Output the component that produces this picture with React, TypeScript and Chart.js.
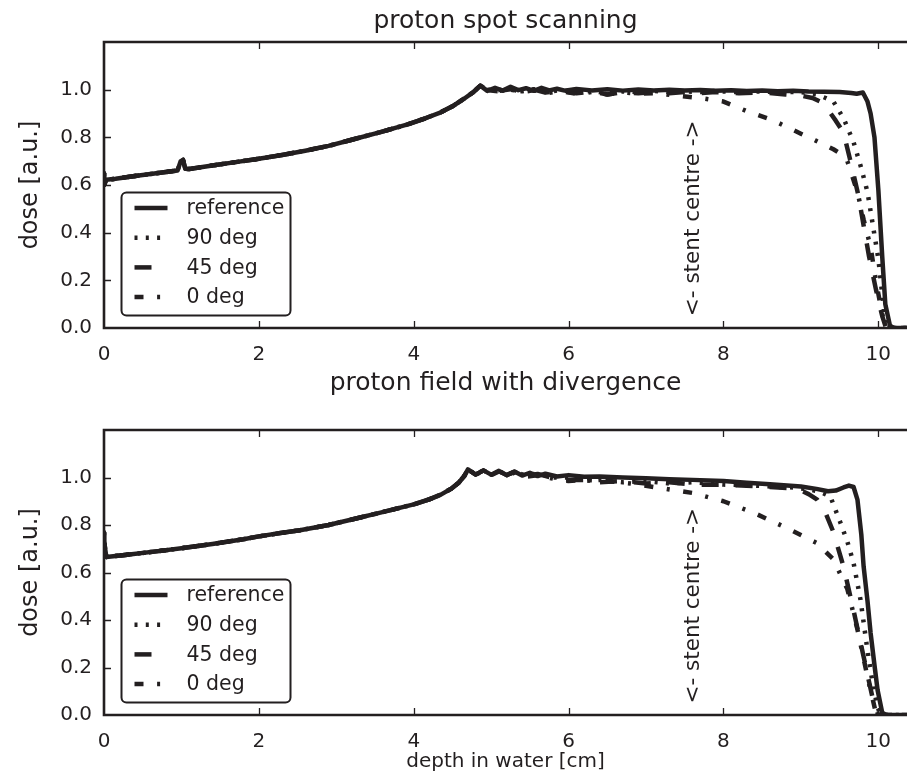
import React, { useEffect, useRef } from 'react';
import { Chart, registerables } from 'chart.js';
Chart.register(...registerables);

const INK = '#231f20';
const FONT = '"DejaVu Sans", "Liberation Sans", sans-serif';

const xTicks = [0, 2, 4, 6, 8, 10];
const yTicks = [0, 0.2, 0.4, 0.6, 0.8, 1.0];
const X_MAX = 10.37;
const Y_MAX = 1.2;
const seriesLabels = ['reference', '90 deg', '45 deg', '0 deg'];
const topTitle = 'proton spot scanning';
const topXLabel = 'proton field with divergence';
const bottomXLabel = 'depth in water [cm]';
const yLabel = 'dose [a.u.]';
const stentText = '<- stent centre ->';
const stentX = 7.61;
const stentY = 0.46;

// ---------- top panel (proton spot scanning) ----------
const topRiseX = [0, 0, 0.03, 0.15, 0.4, 0.7, 0.95, 0.99, 1.02, 1.05, 1.1, 1.4, 1.7, 2.0, 2.3, 2.6, 2.9, 3.2, 3.57, 3.91, 4.15, 4.35, 4.5, 4.65, 4.77, 4.86];
const topRiseY = [0.65, 0.6, 0.622, 0.626, 0.638, 0.65, 0.661, 0.7, 0.705, 0.668, 0.667, 0.682, 0.696, 0.71, 0.726, 0.744, 0.764, 0.79, 0.822, 0.853, 0.88, 0.905, 0.93, 0.962, 0.99, 1.017];

const topRefX = [4.95, 5.05, 5.15, 5.25, 5.35, 5.45, 5.55, 5.65, 5.75, 5.85, 5.95, 6.1, 6.3, 6.5, 6.7, 6.9, 7.1, 7.3, 7.5, 7.7, 7.9, 8.1, 8.3, 8.5, 8.7, 8.9, 9.1, 9.3, 9.5, 9.65, 9.72, 9.8, 9.86, 9.9, 9.95, 10.0, 10.05, 10.09, 10.15, 10.2, 10.37];
const topRefY = [0.995, 1.008, 0.996, 1.012, 0.998, 1.006, 0.995, 1.008, 0.997, 1.004, 0.996, 1.003, 0.997, 1.002, 0.996, 1.001, 0.997, 1.0, 0.996, 0.999, 0.995, 0.998, 0.994, 0.997, 0.993, 0.995, 0.992, 0.991, 0.99, 0.986, 0.983, 0.988, 0.95, 0.9, 0.8, 0.58, 0.3, 0.1, 0.01, 0, 0];

const top90X = [4.95, 5.1, 5.25, 5.4, 5.55, 5.7, 5.9, 6.1, 6.3, 6.5, 6.7, 6.9, 7.1, 7.3, 7.5, 7.7, 7.9, 8.1, 8.4, 8.7, 9.0, 9.2, 9.32, 9.42, 9.55, 9.68, 9.78, 9.86, 9.93, 10.0, 10.05, 10.09, 10.15, 10.37];
const top90Y = [1.0, 0.998, 1.005, 0.993, 1.002, 0.99, 0.998, 0.99, 0.995, 0.985, 0.993, 0.99, 0.995, 0.99, 0.993, 0.99, 0.995, 0.99, 0.993, 0.99, 0.99, 0.98, 0.965, 0.95, 0.88, 0.78, 0.67, 0.57, 0.43, 0.29, 0.14, 0.03, 0, 0];

const top45X = [4.95, 5.1, 5.25, 5.4, 5.55, 5.7, 5.9, 6.1, 6.3, 6.5, 6.7, 6.9, 7.1, 7.3, 7.5, 7.7, 7.9, 8.2, 8.5, 8.8, 9.0, 9.15, 9.25, 9.32, 9.45, 9.55, 9.64, 9.74, 9.81, 9.88, 9.97, 10.05, 10.1, 10.37];
const top45Y = [1.0, 0.995, 1.002, 0.99, 1.0, 0.988, 0.995, 0.985, 0.992, 0.98, 0.99, 0.985, 0.99, 0.985, 0.99, 0.985, 0.99, 0.985, 0.988, 0.98, 0.975, 0.965, 0.95, 0.93, 0.87, 0.82, 0.7, 0.56, 0.43, 0.3, 0.16, 0.05, 0, 0];

const top0X = [4.95, 5.1, 5.25, 5.4, 5.55, 5.7, 5.9, 6.1, 6.3, 6.5, 6.7, 6.9, 7.1, 7.4, 7.7, 8.0, 8.3, 8.65, 9.0, 9.2, 9.42, 9.52, 9.6, 9.73, 9.81, 9.9, 9.96, 10.03, 10.09, 10.37];
const top0Y = [0.998, 0.993, 1.0, 0.99, 0.998, 0.985, 0.993, 0.983, 0.99, 0.98, 0.988, 0.983, 0.985, 0.975, 0.965, 0.95, 0.91, 0.87, 0.815, 0.785, 0.75, 0.73, 0.7, 0.57, 0.455, 0.34, 0.215, 0.09, 0, 0];

// ---------- bottom panel (proton field with divergence) ----------
const botRiseX = [0, 0, 0.03, 0.3, 0.7, 1.0, 1.4, 1.8, 2.0, 2.3, 2.53, 2.9, 3.2, 3.57, 4.0, 4.2, 4.35, 4.48, 4.58, 4.65, 4.7];
const botRiseY = [0.77, 0.735, 0.665, 0.675, 0.69, 0.702, 0.72, 0.74, 0.752, 0.767, 0.778, 0.8, 0.823, 0.852, 0.887, 0.908, 0.928, 0.952, 0.978, 1.005, 1.034];

const botRefX = [4.8, 4.9, 5.0, 5.1, 5.2, 5.3, 5.4, 5.5, 5.6, 5.7, 5.85, 6.0, 6.2, 6.4, 6.7, 7.0, 7.3, 7.6, 8.0, 8.3, 8.6, 9.0, 9.2, 9.35, 9.45, 9.55, 9.62, 9.68, 9.73, 9.78, 9.81, 9.86, 9.9, 9.95, 9.99, 10.05, 10.1, 10.37];
const botRefY = [1.012, 1.03, 1.012, 1.028, 1.01, 1.025, 1.008, 1.02, 1.006, 1.016, 1.004, 1.01, 1.003, 1.004, 1.0, 0.997, 0.993, 0.99, 0.985, 0.978, 0.972, 0.962, 0.952, 0.942, 0.945, 0.958, 0.966, 0.96, 0.907, 0.76, 0.625, 0.48, 0.345, 0.21, 0.105, 0.01, 0, 0];

const bot90X = [4.8, 4.9, 5.0, 5.1, 5.2, 5.3, 5.45, 5.6, 5.8, 6.0, 6.2, 6.4, 6.7, 7.0, 7.3, 7.6, 8.0, 8.3, 8.6, 8.9, 9.1, 9.25, 9.38, 9.51, 9.6, 9.68, 9.77, 9.86, 9.94, 10.02, 10.37];
const bot90Y = [1.012, 1.03, 1.012, 1.027, 1.01, 1.024, 1.008, 1.017, 1.0, 1.0, 0.985, 0.99, 0.98, 0.985, 0.975, 0.98, 0.97, 0.968, 0.962, 0.958, 0.95, 0.94, 0.92, 0.81, 0.73, 0.64, 0.485, 0.27, 0.105, 0, 0];

const bot45X = [4.8, 4.9, 5.0, 5.1, 5.2, 5.3, 5.45, 5.6, 5.8, 6.0, 6.2, 6.4, 6.7, 7.0, 7.3, 7.6, 8.0, 8.3, 8.6, 8.85, 9.0, 9.1, 9.21, 9.32, 9.42, 9.55, 9.68, 9.81, 9.94, 10.0, 10.37];
const bot45Y = [1.012, 1.03, 1.012, 1.027, 1.01, 1.024, 1.006, 1.015, 0.998, 0.99, 0.99, 0.98, 0.985, 0.975, 0.98, 0.97, 0.97, 0.965, 0.96, 0.955, 0.945, 0.93, 0.907, 0.85, 0.77, 0.625, 0.44, 0.245, 0.05, 0, 0];

const bot0X = [4.8, 4.9, 5.0, 5.1, 5.2, 5.3, 5.45, 5.6, 5.8, 6.0, 6.2, 6.5, 6.8, 7.2, 7.6, 8.0, 8.4, 8.8, 9.2, 9.42, 9.6, 9.73, 9.86, 9.96, 10.02, 10.37];
const bot0Y = [1.012, 1.028, 1.01, 1.025, 1.008, 1.02, 1.003, 1.01, 0.995, 0.985, 0.99, 0.985, 0.975, 0.955, 0.935, 0.9, 0.85, 0.79, 0.725, 0.655, 0.53, 0.36, 0.16, 0.02, 0, 0];

const dashes: number[][] = [[], [3, 8.3], [17, 17], [9, 13.6, 3, 13.6]];
const widths = [4.5, 4.5, 4.5, 4.5];

function pts(xs: number[], ys: number[]) {
  return xs.map((x, i) => ({ x, y: ys[i] }));
}

function makeDatasets(riseX: number[], riseY: number[], tails: [number[], number[]][]) {
  return tails.map(([tx, ty], i) => ({
    label: seriesLabels[i],
    data: pts([...riseX, ...tx], [...riseY, ...ty]),
    borderColor: INK,
    backgroundColor: INK,
    borderWidth: widths[i],
    borderDash: dashes[i],
    borderCapStyle: 'butt' as const,
    borderJoinStyle: 'round' as const,
    pointRadius: 0,
    tension: 0,
    fill: false,
  }));
}

type PanelCfg = {
  padTop: number;
  xAxisH: number;
  title?: string;
  titleBaseline?: number;
  xLabel: string;
  xLabelSize: number;
  xLabelBaseline: number;
};

function decorPlugin(cfg: PanelCfg) {
  return {
    id: 'decor',
    afterDraw(chart: any) {
      const ctx: CanvasRenderingContext2D = chart.ctx;
      const a = chart.chartArea;
      const xs = chart.scales.x;
      const ys = chart.scales.y;
      ctx.save();
      // inward tick marks
      ctx.strokeStyle = INK;
      ctx.lineWidth = 1.3;
      ctx.setLineDash([]);
      ctx.beginPath();
      xTicks.forEach((v) => {
        if (v === 0) return;
        const px = Math.round(xs.getPixelForValue(v)) + 0.5;
        ctx.moveTo(px, a.top);
        ctx.lineTo(px, a.top + 7);
        ctx.moveTo(px, a.bottom);
        ctx.lineTo(px, a.bottom - 7);
      });
      yTicks.forEach((v) => {
        if (v === 0) return;
        const py = Math.round(ys.getPixelForValue(v)) + 0.5;
        ctx.moveTo(a.left, py);
        ctx.lineTo(a.left + 7, py);
      });
      ctx.stroke();
      // frame (right side lies beyond the picture)
      ctx.lineWidth = 2.6;
      ctx.beginPath();
      ctx.moveTo(chart.width + 5, a.top);
      ctx.lineTo(a.left, a.top);
      ctx.lineTo(a.left, a.bottom);
      ctx.lineTo(chart.width + 5, a.bottom);
      ctx.stroke();

      ctx.fillStyle = INK;
      // stent annotation
      ctx.save();
      ctx.translate(xs.getPixelForValue(stentX), ys.getPixelForValue(stentY));
      ctx.rotate(-Math.PI / 2);
      ctx.font = `21.5px ${FONT}`;
      ctx.textAlign = 'center';
      ctx.textBaseline = 'middle';
      ctx.fillText(stentText, 0, 0);
      ctx.restore();

      // legend (lower left)
      const bw = 169, bh = 123;
      const bx = a.left + 17.5;
      const by = a.bottom - 13 - bh;
      ctx.lineWidth = 2;
      ctx.strokeStyle = INK;
      ctx.fillStyle = '#ffffff';
      ctx.beginPath();
      (ctx as any).roundRect(bx, by + 0.5, bw, bh, 5);
      ctx.fill();
      ctx.stroke();
      ctx.font = `20.5px ${FONT}`;
      ctx.textAlign = 'left';
      ctx.textBaseline = 'middle';
      chart.data.datasets.forEach((ds: any, i: number) => {
        const ry = by + 16 + i * 29.7;
        ctx.strokeStyle = INK;
        ctx.lineWidth = ds.borderWidth;
        ctx.lineCap = 'butt';
        ctx.setLineDash(ds.borderDash || []);
        ctx.beginPath();
        ctx.moveTo(bx + 13, ry);
        ctx.lineTo(bx + 46, ry);
        ctx.stroke();
        ctx.setLineDash([]);
        ctx.fillStyle = INK;
        ctx.fillText(ds.label, bx + 65, ry + 1);
      });

      // axis labels / title
      ctx.fillStyle = INK;
      const cx = (a.left + chart.width) / 2;
      if (cfg.title) {
        ctx.font = `25px ${FONT}`;
        ctx.textAlign = 'center';
        ctx.textBaseline = 'alphabetic';
        ctx.fillText(cfg.title, cx, cfg.titleBaseline || 28);
      }
      ctx.font = `${cfg.xLabelSize}px ${FONT}`;
      ctx.textAlign = 'center';
      ctx.textBaseline = 'alphabetic';
      ctx.fillText(cfg.xLabel, cx, cfg.xLabelBaseline);

      ctx.save();
      ctx.translate(31, (a.top + a.bottom) / 2);
      ctx.rotate(-Math.PI / 2);
      ctx.font = `24px ${FONT}`;
      ctx.textAlign = 'center';
      ctx.textBaseline = 'middle';
      ctx.fillText(yLabel, 0, 0);
      ctx.restore();

      ctx.restore();
    },
  };
}

function buildChart(canvas: HTMLCanvasElement, datasets: any[], cfg: PanelCfg) {
  return new Chart(canvas, {
    type: 'line',
    data: { datasets },
    options: {
      animation: false,
      responsive: false,
      devicePixelRatio: 1,
      layout: { padding: { top: cfg.padTop, left: 0, right: 0, bottom: 0 }, autoPadding: false },
      plugins: { legend: { display: false }, tooltip: { enabled: false }, title: { display: false } },
      scales: {
        x: {
          type: 'linear',
          min: 0,
          max: X_MAX,
          afterBuildTicks: (s: any) => { s.ticks = xTicks.map((v) => ({ value: v })); },
          afterFit: (s: any) => { s.height = cfg.xAxisH; },
          grid: { display: false, drawTicks: false },
          border: { display: false },
          ticks: {
            color: INK,
            font: { family: FONT, size: 20 },
            padding: 14.5,
            maxRotation: 0,
            autoSkip: false,
            callback: (v: any) => String(v),
          },
        },
        y: {
          type: 'linear',
          min: 0,
          max: Y_MAX,
          afterBuildTicks: (s: any) => { s.ticks = yTicks.map((v) => ({ value: v })); },
          afterFit: (s: any) => { s.width = 104; },
          grid: { display: false, drawTicks: false },
          border: { display: false },
          ticks: {
            color: INK,
            font: { family: FONT, size: 20 },
            padding: 12,
            callback: (v: any) => Number(v).toFixed(1),
          },
        },
      },
    } as any,
    plugins: [decorPlugin(cfg) as any],
  });
}

export default function App() {
  const topRef = useRef<HTMLCanvasElement>(null);
  const botRef = useRef<HTMLCanvasElement>(null);

  useEffect(() => {
    const topSets = makeDatasets(topRiseX, topRiseY, [
      [topRefX, topRefY],
      [top90X, top90Y],
      [top45X, top45Y],
      [top0X, top0Y],
    ]);
    const botSets = makeDatasets(botRiseX, botRiseY, [
      [botRefX, botRefY],
      [bot90X, bot90Y],
      [bot45X, bot45Y],
      [bot0X, bot0Y],
    ]);
    const c1 = buildChart(topRef.current!, topSets, {
      padTop: 42,
      xAxisH: 72,
      title: topTitle,
      titleBaseline: 28,
      xLabel: topXLabel,
      xLabelSize: 25,
      xLabelBaseline: 390,
    });
    const c2 = buildChart(botRef.current!, botSets, {
      padTop: 30,
      xAxisH: 56,
      xLabel: bottomXLabel,
      xLabelSize: 20,
      xLabelBaseline: 367,
    });
    return () => {
      c1.destroy();
      c2.destroy();
    };
  }, []);

  return (
    <div style={{ position: 'absolute', left: 0, top: 0, width: 907, height: 771, background: '#ffffff', overflow: 'hidden' }}>
      <canvas ref={topRef} width={907} height={400} style={{ position: 'absolute', left: 0, top: 0, width: 907, height: 400 }} />
      <canvas ref={botRef} width={907} height={371} style={{ position: 'absolute', left: 0, top: 400, width: 907, height: 371 }} />
    </div>
  );
}
